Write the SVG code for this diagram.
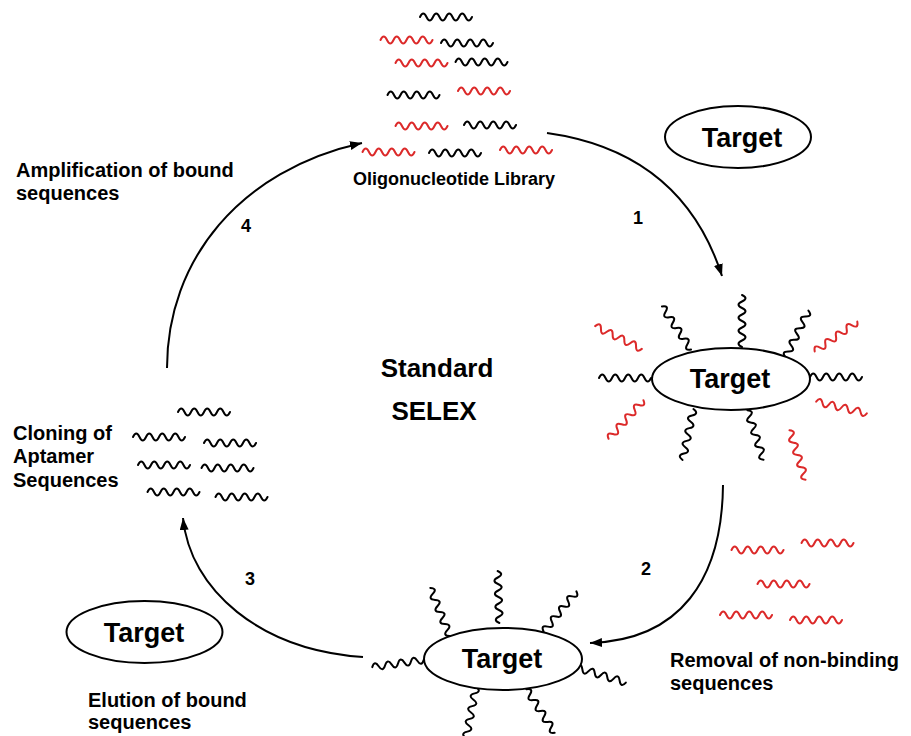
<svg xmlns="http://www.w3.org/2000/svg" xmlns:xlink="http://www.w3.org/1999/xlink" width="911" height="736" viewBox="0 0 911 736">
<style>
text{font-family:"Liberation Sans",Arial,sans-serif;font-weight:bold;fill:#000}
.lbl{font-size:20px}
.lib{font-size:18px;text-anchor:middle}
.num{font-size:18px;text-anchor:middle}
.tg{font-size:27px;text-anchor:middle}
.big{font-size:26px;text-anchor:middle}
.el{fill:#fff;stroke:#000;stroke-width:2}
.k{stroke:#000}
.r{stroke:#dc2a2a}
.arr{fill:none;stroke:#000;stroke-width:2;marker-end:url(#ah)}
</style>
<defs>
<path id="w" d="M-26,0 q3.25,-7 6.5,0 t6.5,0 t6.5,0 t6.5,0 t6.5,0 t6.5,0 t6.5,0 t6.5,0" fill="none" stroke-width="2" stroke-linecap="round"/>
<marker id="ah" markerUnits="userSpaceOnUse" markerWidth="13" markerHeight="9" refX="12" refY="4.5" orient="auto">
<path d="M0,0 L12,4.5 L0,9 z" fill="#000"/>
</marker>
</defs>
<rect width="911" height="736" fill="#fff"/>

<g id="connectors">
<path class="arr" d="M547,133 Q682,152 722,276"/>
<path class="arr" d="M723,485 C722,580 680,640 590,643"/>
<path class="arr" d="M363,657 C260,650 190,590 183,518"/>
<path class="arr" d="M167,368 C167,260 240,170 362,143"/>
<text class="num" x="638" y="224">1</text>
<text class="num" x="646" y="575">2</text>
<text class="num" x="250" y="585">3</text>
<text class="num" x="246" y="232">4</text>
</g>

<g id="library">
<use href="#w" class="k" transform="translate(446,17)"/>
<use href="#w" class="r" transform="translate(406.5,40)"/>
<use href="#w" class="k" transform="translate(467,43)"/>
<use href="#w" class="r" transform="translate(421.5,63)"/>
<use href="#w" class="k" transform="translate(481.5,62)"/>
<use href="#w" class="k" transform="translate(413.5,95)"/>
<use href="#w" class="r" transform="translate(484,91)"/>
<use href="#w" class="r" transform="translate(421.5,126)"/>
<use href="#w" class="k" transform="translate(490,125)"/>
<use href="#w" class="r" transform="translate(388.5,152)"/>
<use href="#w" class="k" transform="translate(455,153)"/>
<use href="#w" class="r" transform="translate(526,150)"/>
<text class="lib" x="454" y="185">Oligonucleotide Library</text>
</g>

<g id="target-free-top">
<ellipse class="el" cx="738" cy="137" rx="73" ry="31"/>
<text class="tg" x="742" y="147">Target</text>
</g>

<g id="target-binding">
<use href="#w" class="k" transform="translate(625,378)"/>
<use href="#w" class="k" transform="translate(836,377)"/>
<use href="#w" class="k" transform="translate(742,321) rotate(90)"/>
<use href="#w" class="k" transform="translate(676.5,328) rotate(56)"/>
<use href="#w" class="k" transform="translate(797,334) rotate(-64)"/>
<use href="#w" class="k" transform="translate(688,434.5) rotate(102)"/>
<use href="#w" class="k" transform="translate(755.5,435) rotate(72)"/>
<use href="#w" class="r" transform="translate(618.5,337.5) rotate(26)"/>
<use href="#w" class="r" transform="translate(836,336.5) rotate(-35)"/>
<use href="#w" class="r" transform="translate(626,419.5) rotate(-48)"/>
<use href="#w" class="r" transform="translate(841.5,407.5) rotate(13)"/>
<use href="#w" class="r" transform="translate(797.5,455) rotate(72)"/>
<ellipse class="el" cx="731" cy="379" rx="79" ry="31"/>
<text class="tg" x="730" y="388">Target</text>
</g>

<g id="removed">
<use href="#w" class="r" transform="translate(757.5,550)"/>
<use href="#w" class="r" transform="translate(827.5,543)"/>
<use href="#w" class="r" transform="translate(783.5,584)"/>
<use href="#w" class="r" transform="translate(746,615)"/>
<use href="#w" class="r" transform="translate(816,620)"/>
<text class="lbl" x="670" y="667">Removal of non-binding</text>
<text class="lbl" x="670" y="690">sequences</text>
</g>

<g id="target-bound">
<use href="#w" class="k" transform="translate(398,663.5) rotate(-8)"/>
<use href="#w" class="k" transform="translate(601,675) rotate(17)"/>
<use href="#w" class="k" transform="translate(498.5,597) rotate(88)"/>
<use href="#w" class="k" transform="translate(440,612) rotate(68)"/>
<use href="#w" class="k" transform="translate(560,611.5) rotate(-51)"/>
<use href="#w" class="k" transform="translate(471,712.5) rotate(101)"/>
<use href="#w" class="k" transform="translate(540.5,711) rotate(57)"/>
<ellipse class="el" cx="503" cy="659" rx="79" ry="31"/>
<text class="tg" x="502" y="668">Target</text>
</g>

<g id="target-free-bottom">
<ellipse class="el" cx="144.5" cy="632" rx="78" ry="31"/>
<text class="tg" x="144" y="642">Target</text>
<text class="lbl" x="88" y="707">Elution of bound</text>
<text class="lbl" x="88" y="729">sequences</text>
</g>

<g id="aptamers">
<use href="#w" class="k" transform="translate(204,412)"/>
<use href="#w" class="k" transform="translate(159,437)"/>
<use href="#w" class="k" transform="translate(230,443)"/>
<use href="#w" class="k" transform="translate(164,465)"/>
<use href="#w" class="k" transform="translate(227.5,468)"/>
<use href="#w" class="k" transform="translate(173.5,492)"/>
<use href="#w" class="k" transform="translate(241.5,497)"/>
<text class="lbl" x="13" y="440">Cloning of</text>
<text class="lbl" x="13" y="463">Aptamer</text>
<text class="lbl" x="13" y="487">Sequences</text>
</g>

<g id="amplification">
<text class="lbl" x="16" y="177">Amplification of bound</text>
<text class="lbl" x="16" y="200">sequences</text>
</g>

<g id="title">
<text class="big" x="437" y="377">Standard</text>
<text class="big" x="434" y="420">SELEX</text>
</g>
</svg>
